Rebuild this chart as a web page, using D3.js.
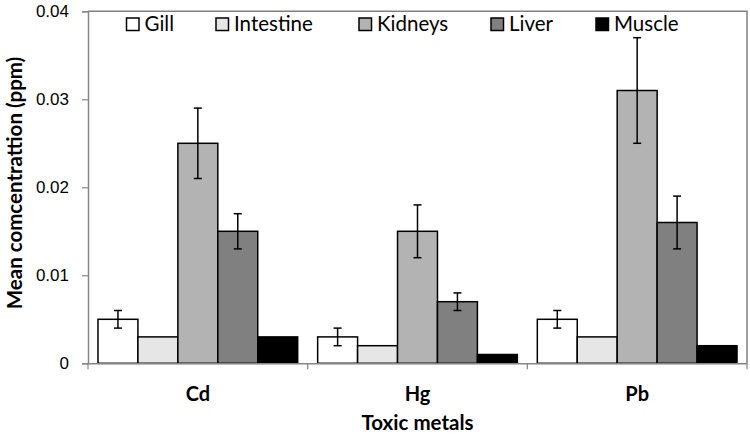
<!DOCTYPE html>
<html><head><meta charset="utf-8">
<script src="https://cdn.jsdelivr.net/npm/d3@7"></script>
<style>body{margin:0;background:#fff}svg{display:block}</style>
</head><body><svg id="c" width="750" height="436"></svg>
<script>
const categories = ["Cd", "Hg", "Pb"];
const series = ["Gill", "Intestine", "Kidneys", "Liver", "Muscle"];
const colors = ["#ffffff", "#e6e6e6", "#b3b3b3", "#808080", "#000000"];
const gill = [0.005, 0.003, 0.005];
const intestine = [0.003, 0.002, 0.003];
const kidneys = [0.025, 0.015, 0.031];
const liver = [0.015, 0.007, 0.016];
const muscle = [0.003, 0.001, 0.002];
const gillErr = [0.001, 0.001, 0.001];
const intestineErr = [null, null, null];
const kidneysErr = [0.004, 0.003, 0.006];
const liverErr = [0.002, 0.001, 0.003];
const muscleErr = [null, null, null];
const yTicks = [0, 0.01, 0.02, 0.03, 0.04];
const yTickLabels = ["0", "0.01", "0.02", "0.03", "0.04"];

const values = [gill, intestine, kidneys, liver, muscle];
const errs = [gillErr, intestineErr, kidneysErr, liverErr, muscleErr];

const svg = d3.select("#c");
const L = 88, R = 747, T = 11.3, B = 363.3;
const x = d3.scaleBand().domain(categories).range([L, R]);
const xi = d3.scaleBand().domain(series).range([0, x.bandwidth()]).paddingOuter(0.25);
const y = d3.scaleLinear().domain([0, 0.04]).range([B, T]);
const titleFont = "Lato, 'Open Sans', sans-serif";

// plot border top/right
svg.append("path").attr("d", `M${L},${T}H${R}V${B}`).attr("fill","none").attr("stroke","#808080").attr("stroke-width",1.5);

// y axis
const ya = svg.append("g").attr("transform",`translate(${L},0)`)
  .call(d3.axisLeft(y).tickValues(yTicks).tickFormat((d,i)=>yTickLabels[i]).tickSize(6).tickPadding(13));
ya.select(".domain").attr("stroke","#868686").attr("stroke-width",1.5);
ya.selectAll(".tick line").attr("stroke","#868686").attr("stroke-width",1.2);
ya.selectAll("text").attr("font-family","Liberation Sans, Arial, sans-serif").attr("font-size",17).attr("fill","#000");

// bars
const groups = svg.append("g").selectAll("g").data(categories).join("g")
  .attr("transform", d=>`translate(${x(d)},0)`);
series.forEach((s, si) => {
  groups.append("rect")
    .attr("x", xi(s)).attr("width", xi.bandwidth())
    .attr("y", (d,ci)=>y(values[si][ci])).attr("height",(d,ci)=>B-y(values[si][ci]))
    .attr("fill", colors[si]).attr("stroke","#000").attr("stroke-width",1.5);
});
// error bars
series.forEach((s, si) => {
  groups.each(function(d, ci){
    const e = errs[si][ci];
    if (e == null) return;
    const cx = xi(s) + xi.bandwidth()/2, v = values[si][ci];
    const g = d3.select(this);
    g.append("line").attr("x1",cx).attr("x2",cx).attr("y1",y(v-e)).attr("y2",y(v+e)).attr("stroke","#000").attr("stroke-width",1.5);
    [v-e, v+e].forEach(t => g.append("line").attr("x1",cx-4).attr("x2",cx+4).attr("y1",y(t)).attr("y2",y(t)).attr("stroke","#000").attr("stroke-width",1.5));
  });
});

// x axis
const xa = svg.append("g").attr("transform",`translate(0,${B})`)
  .call(d3.axisBottom(x).tickSize(0).tickPadding(24));
xa.select(".domain").attr("stroke","#868686").attr("stroke-width",1.5);
xa.selectAll("text").attr("font-family",titleFont).attr("font-weight","bold").attr("font-size",20).attr("fill","#000");
const bounds = categories.map(c=>x(c)).concat([R]);
svg.append("g").selectAll("line").data(bounds).join("line")
  .attr("x1",d=>d).attr("x2",d=>d).attr("y1",B).attr("y2",B+6).attr("stroke","#868686").attr("stroke-width",1.2);

// axis titles
svg.append("text").attr("x",(L+R)/2).attr("y",430).attr("text-anchor","middle")
  .attr("font-family",titleFont).attr("font-weight","bold").attr("font-size",20.5).text("Toxic metals");
svg.append("text").attr("transform",`translate(22,183) rotate(-90)`).attr("text-anchor","middle")
  .attr("font-family",titleFont).attr("font-weight","bold").attr("font-size",20.5).text("Mean comcentrattion (ppm)");

// legend
const legX = [126.5, 216, 359, 491, 596];
const leg = svg.append("g").selectAll("g").data(series).join("g").attr("transform",(d,i)=>`translate(${legX[i]},18)`);
leg.append("rect").attr("width",12.5).attr("height",12.5).attr("fill",(d,i)=>colors[i]).attr("stroke","#000").attr("stroke-width",1.5);
leg.append("text").attr("x",18).attr("y",12.5).attr("font-family",titleFont).attr("font-size",20.5).text(d=>d);
</script></body></html>
